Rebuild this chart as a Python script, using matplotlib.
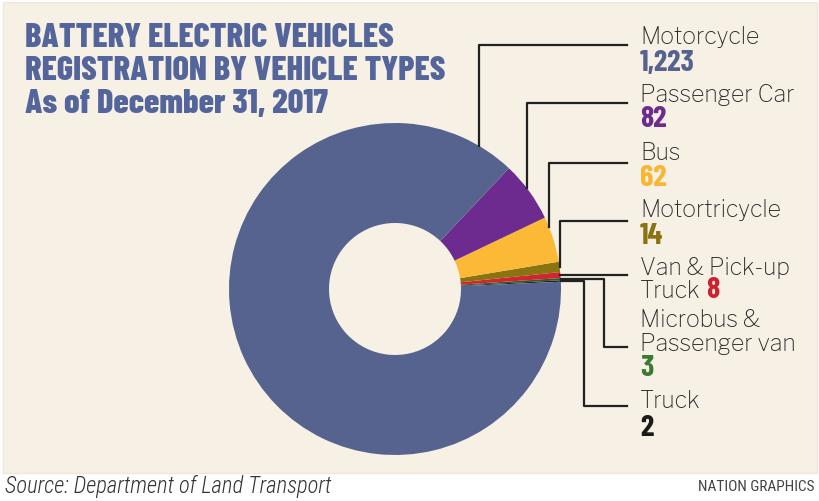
import matplotlib
matplotlib.use("Agg")
import matplotlib.pyplot as plt
from matplotlib.patches import Rectangle
import numpy as np

# ---- data ----
categories = ["Motorcycle", "Passenger Car", "Bus", "Motortricycle",
              "Van & Pick-up Truck", "Microbus & Passenger van", "Truck"]
values = [1223, 82, 62, 14, 8, 3, 2]
value_labels = ["1,223", "82", "62", "14", "8", "3", "2"]
wedge_colors = ["#56638F", "#6D2B90", "#FBB936", "#8A7412", "#D2252D", "#2F5E2B", "#1D2420"]
value_colors = ["#56638F", "#6D2B90", "#F7B733", "#8A7412", "#CF2030", "#3B7A33", "#1A1A1A"]

title_lines = ["BATTERY ELECTRIC VEHICLES", "REGISTRATION BY VEHICLE TYPES",
               "As of December 31, 2017"]
source_text = "Source: Department of Land Transport"
credit_text = "NATION GRAPHICS"

W, H = 820, 501
fig = plt.figure(figsize=(W / 100, H / 100), dpi=100, facecolor="white")
ax = fig.add_axes([0, 0, 1, 1])
renderer = fig.canvas.get_renderer()

def Y(ypx):
    return H - ypx

def fit(txt, target_w):
    w = txt.get_window_extent(renderer=renderer).width
    if w > 0:
        txt.set_fontsize(txt.get_fontsize() * target_w / w)
    return txt.get_fontsize()

# background panel
ax.add_patch(Rectangle((3, Y(473)), 814, 471, facecolor="#F6F0E5",
                       edgecolor="#EFE8DA", lw=1, zorder=0))

# ---- donut ----
cx, cy, R, width = 395, Y(289), 166, 100
start = 2.5
wedges, _ = ax.pie(values[::-1], colors=wedge_colors[::-1], startangle=start,
                   counterclock=True, radius=R, center=(cx, cy),
                   wedgeprops=dict(width=width, linewidth=0))
wedges = wedges[::-1]
ax.set_xlim(0, W)
ax.set_ylim(0, H)
ax.set_aspect("equal")
ax.axis("off")

# ---- leader lines ----
lc = "#222222"
lw = 1.6
xend = 627

def edge_y(x):
    return cy + np.sqrt(R ** 2 - (x - cx) ** 2)

def mid_point(w):
    t = np.deg2rad((w.theta1 + w.theta2) / 2)
    return cx + R * np.cos(t), cy + R * np.sin(t)

elbows = [(479, 45), (527, 103), (549, 163)]
for (ex, ey) in elbows:
    ax.plot([ex, ex, xend], [edge_y(ex), Y(ey), Y(ey)], color=lc, lw=lw, zorder=3)
px, py = mid_point(wedges[3])
ax.plot([px, px, xend], [py, Y(221), Y(221)], color=lc, lw=lw, zorder=3)
px, py = mid_point(wedges[4])
ax.plot([px, xend], [py, py], color=lc, lw=lw, zorder=3)
px, py = mid_point(wedges[5])
ax.plot([px, 604, 604, xend], [py, py, Y(347), Y(347)], color=lc, lw=lw, zorder=3)
px, py = mid_point(wedges[6])
ax.plot([px, 584, 584, xend], [py, py, Y(406), Y(406)], color=lc, lw=lw, zorder=3)

# ---- labels ----
lab_family = ["Libre Franklin", "Open Sans", "DejaVu Sans"]
val_family = ["Barlow Condensed", "Anton", "DejaVu Sans"]
tx = 640

probe = ax.text(0, 0, categories[0], family=lab_family, fontweight="light", fontsize=15)
lab_size = fit(probe, 119)
probe.remove()
probe = ax.text(0, 0, value_labels[0], family=val_family, fontweight="bold", fontsize=20)
val_size = fit(probe, 55)
probe.remove()

lab_font = dict(family=lab_family, fontweight="light", fontsize=lab_size, color="#2A2A2A")
val_font = dict(family=val_family, fontweight="bold", fontsize=val_size)

ax.text(tx, Y(37), categories[0], va="center", **lab_font)
ax.text(tx, Y(63), value_labels[0], va="center", color=value_colors[0], **val_font)
ax.text(tx, Y(95), categories[1], va="center", **lab_font)
ax.text(tx, Y(119), value_labels[1], va="center", color=value_colors[1], **val_font)
ax.text(tx, Y(153), categories[2], va="center", **lab_font)
ax.text(tx, Y(178), value_labels[2], va="center", color=value_colors[2], **val_font)
ax.text(tx, Y(210), categories[3], va="center", **lab_font)
ax.text(tx, Y(236), value_labels[3], va="center", color=value_colors[3], **val_font)
ax.text(tx, Y(268), "Van & Pick-up", va="center", **lab_font)
t = ax.text(tx, Y(291), "Truck", va="center", **lab_font)
ax.annotate(value_labels[4], xy=(1, 0.5), xycoords=t, xytext=(4, 0),
            textcoords="offset points", va="center", ha="left",
            color=value_colors[4], **val_font)
ax.text(tx, Y(320), "Microbus &", va="center", **lab_font)
ax.text(tx, Y(344), "Passenger van", va="center", **lab_font)
ax.text(tx, Y(369), value_labels[5], va="center", color=value_colors[5], **val_font)
ax.text(tx, Y(401), categories[6], va="center", **lab_font)
ax.text(tx, Y(428), value_labels[6], va="center", color=value_colors[6], **val_font)

# ---- title ----
title_color = "#53659A"
first = ax.text(25, Y(47), title_lines[0], va="baseline", ha="left",
                family=val_family, fontweight=800, fontsize=26, color=title_color)
tsize = fit(first, 367)
for i, line in enumerate(title_lines[1:], start=1):
    ax.text(25, Y(47 + 33 * i), line, va="baseline", ha="left",
            family=val_family, fontweight=800, fontsize=tsize, color=title_color)

# ---- footer ----
src = ax.text(5, Y(487), source_text, va="center", ha="left",
              family=["Roboto Condensed", "Archivo Narrow", "DejaVu Sans"],
              style="italic", fontweight="light", fontsize=14, color="#333333")
fit(src, 328)
cred = ax.text(815, Y(487), credit_text, va="center", ha="right",
               family=["Roboto Condensed", "Archivo Narrow", "DejaVu Sans"],
               fontsize=9.5, color="#444444")
fit(cred, 117)

fig.savefig("out.png", dpi=100, facecolor="white")
